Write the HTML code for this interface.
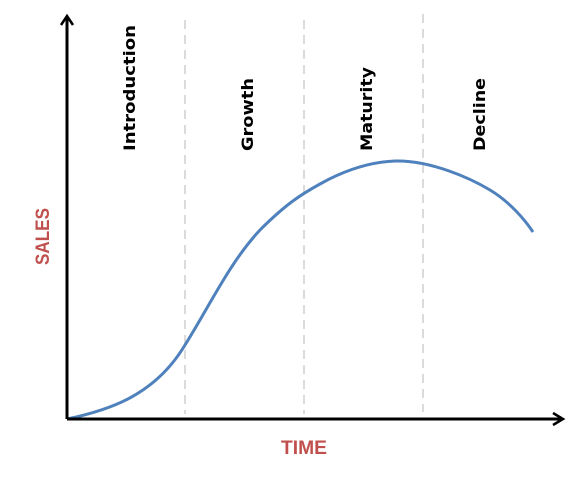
<!DOCTYPE html>
<html><head><meta charset="utf-8"><style>body{margin:0;background:#fff}</style></head><body>
<svg width="584" height="476" viewBox="0 0 584 476" xmlns="http://www.w3.org/2000/svg">
<g stroke="#cfcfcf" stroke-width="1.5" stroke-dasharray="9,6">
<line x1="185" y1="20" x2="185" y2="414"/>
<line x1="304" y1="20" x2="304" y2="414"/>
<line x1="423" y1="14" x2="423" y2="412"/>
</g>
<path d="M67,419 C110,410 155,395 185,345 C210,305 230,262 260,230 C285,205 300,195 320,184 C345,170 370,162 395,161 C430,160 470,178 490,190 C510,202 525,220 533,232" fill="none" stroke="#4f81bd" stroke-width="3"/>
<g stroke="#000" stroke-width="3" fill="none">
<line x1="67" y1="419" x2="67" y2="17"/>
<polyline points="61,25 67,16 73,25" stroke-width="2.5"/>
<line x1="67" y1="419" x2="561" y2="419"/>
<polyline points="553,413 563,419 553,425" stroke-width="2.5"/>
</g>
<g font-family="DejaVu Sans, sans-serif" font-weight="bold" font-size="16" fill="#000">
<text transform="translate(135,151) rotate(-90)" textLength="126" lengthAdjust="spacingAndGlyphs">Introduction</text>
<text transform="translate(253,151) rotate(-90)" textLength="73" lengthAdjust="spacingAndGlyphs">Growth</text>
<text transform="translate(372,151) rotate(-90)" textLength="84" lengthAdjust="spacingAndGlyphs">Maturity</text>
<text transform="translate(485,151) rotate(-90)" textLength="73" lengthAdjust="spacingAndGlyphs">Decline</text>
</g>
<g font-family="Liberation Sans, sans-serif" font-weight="bold" font-size="19" fill="#c0504d">
<text transform="translate(49,265) rotate(-90)" textLength="57" lengthAdjust="spacingAndGlyphs">SALES</text>
<text x="281" y="454" textLength="46" lengthAdjust="spacingAndGlyphs">TIME</text>
</g>
</svg>
</body></html>
